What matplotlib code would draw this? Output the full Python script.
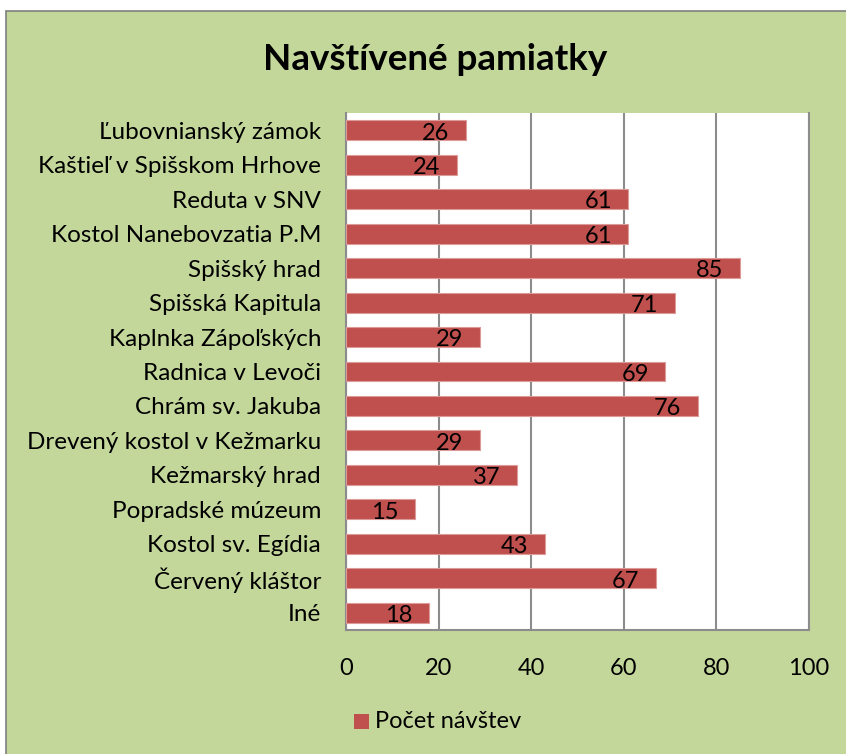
import matplotlib.pyplot as plt
from matplotlib.patches import Rectangle

# data, top to bottom
places = ['Ľubovnianský zámok', 'Kaštieľ v Spišskom Hrhove', 'Reduta v SNV',
          'Kostol Nanebovzatia P.M', 'Spišský hrad', 'Spišská Kapitula',
          'Kaplnka Zápoľských', 'Radnica v Levoči', 'Chrám sv. Jakuba',
          'Drevený kostol v Kežmarku', 'Kežmarský hrad', 'Popradské múzeum',
          'Kostol sv. Egídia', 'Červený kláštor', 'Iné']
visits = [26, 24, 61, 61, 85, 71, 29, 69, 76, 29, 37, 15, 43, 67, 18]
xticks = [0, 20, 40, 60, 80, 100]
series_name = 'Počet návštev'

green = '#c4d79b'
bar_col = '#c0504d'
grid_col = '#8c8c8c'

plt.rcParams['font.family'] = ['Lato', 'DejaVu Sans']

W, H = 846, 754
fig = plt.figure(figsize=(W / 100, H / 100), dpi=100)
fig.patch.set_facecolor('white')
# green chart area with grey outline
fig.patches.append(Rectangle((6 / W, -0.01), 1.0, 1 - 11 / H + 0.01,
                             transform=fig.transFigure, facecolor=green,
                             edgecolor='#7f7f7f', linewidth=1.2, zorder=-10))

ax = fig.add_axes([346 / W, 1 - 630 / H, (809 - 346) / W, (630 - 113) / H])
ax.set_facecolor('white')
ypos = list(range(len(places)))
ax.barh(ypos, visits, height=0.58, color=bar_col, edgecolor='#dc9a98',
        linewidth=0.8, zorder=3)
for y, v in zip(ypos, visits):
    ax.annotate(str(v), (v, y), xytext=(-12, -2), textcoords='offset points',
                ha='right', va='center', fontsize=17, color='black', zorder=4)

ax.set_xlim(0, 100)
ax.set_ylim(len(places) - 0.5, -0.5)
ax.set_xticks(xticks)
ax.set_yticks(ypos)
ax.set_yticklabels(places, fontsize=17.5)
ax.tick_params(axis='x', length=0, pad=20, labelsize=17)
ax.tick_params(axis='y', length=0, pad=18)
ax.grid(axis='x', color=grid_col, linewidth=1.5, zorder=1)
for side in ['left', 'right', 'bottom']:
    ax.spines[side].set_color(grid_col)
    ax.spines[side].set_linewidth(1.5)
ax.spines['top'].set_visible(False)

fig.text(435 / W, 1 - 60 / H, 'Navštívené pamiatky', ha='center', va='center',
         fontsize=26.5, fontweight='bold')

# legend
fig.patches.append(Rectangle((354 / W, 1 - 729 / H), 15 / W, 15 / H,
                             transform=fig.transFigure, facecolor=bar_col,
                             edgecolor='none'))
fig.text(375 / W, 1 - 721 / H, series_name, ha='left', va='center', fontsize=17)

fig.savefig('out.png', dpi=100, facecolor=fig.get_facecolor())
